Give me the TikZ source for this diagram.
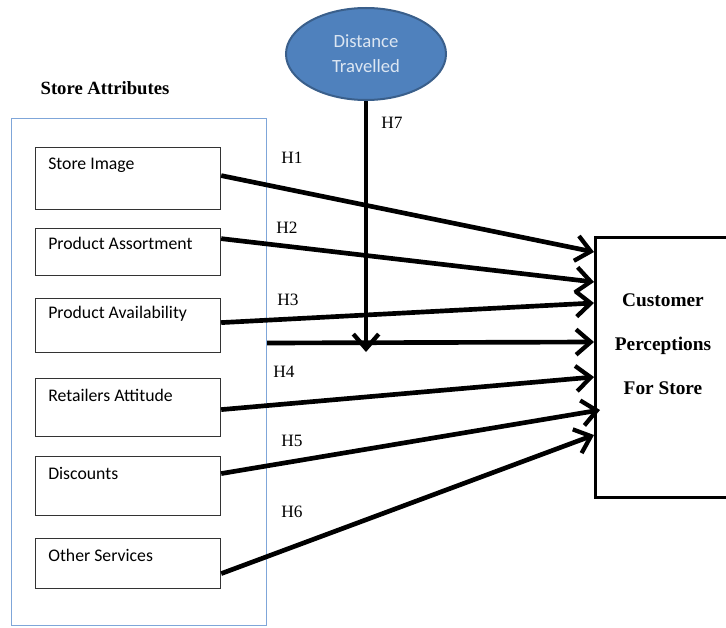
\documentclass[tikz,border=0pt]{standalone}
\usepackage{fontspec}
\setmainfont{Liberation Serif}
\newfontfamily\calibri{Carlito}
\usetikzlibrary{arrows.meta,calc,shapes.geometric}
\definecolor{distfill}{HTML}{4F81BD}
\definecolor{distline}{HTML}{3A5F8B}
\definecolor{disttext}{HTML}{DCE6F2}
\definecolor{groupline}{HTML}{7FA6D9}

\begin{document}
\begin{tikzpicture}[x=0.75pt,y=-0.75pt,
	attr/.style={draw=black!80,line width=0.9pt,minimum width=138.75pt,anchor=north west,inner sep=0pt},
	attrtext/.style={anchor=west,inner sep=0pt,font=\calibri\fontsize{13.3}{15}\selectfont},
	hyp/.style={font=\fontsize{13}{15}\selectfont},
	link/.style={line width=3.5pt,-{Straight Barb[length=11pt,width=19pt,line width=3.2pt]}}]
	\useasboundingbox (0,0) rectangle (726,628);
	\node at (105,88) (sahead) {\bfseries\fontsize{14}{16}\selectfont Store Attributes};
	\node[draw=groupline,line width=0.8pt,anchor=north west,minimum width=191.25pt,minimum height=380.25pt] at (11,118) (sa) {};
	\node[attr,minimum height=46.5pt] at (35,147) (si) {};
	\node[attrtext] at (48,165) (sit) {Store Image};
	\node[attr,minimum height=35.25pt] at (35,228) (pas) {};
	\node[attrtext] at (48,243) (past) {Product Assortment};
	\node[attr,minimum height=40.5pt] at (35,298) (pav) {};
	\node[attrtext] at (48,314) (pavt) {Product Availability};
	\node[attr,minimum height=43.5pt] at (35,378) (ra) {};
	\node[attrtext] at (48,395) (rat) {Retailers Attitude};
	\node[attr,minimum height=44.25pt] at (35,456) (di) {};
	\node[attrtext] at (48,473) (dit) {Discounts};
	\node[attr,minimum height=37.5pt] at (35,538) (os) {};
	\node[attrtext] at (48,555) (ost) {Other Services};
	\node[ellipse,draw=distline,fill=distfill,line width=1.5pt,minimum width=120pt,minimum height=69pt,
		align=center,text=disttext,font=\calibri\fontsize{14}{18.75}\selectfont] at (366,54) (dt) {Distance\\Travelled};
	\node[draw,line width=2.25pt,anchor=north west,minimum width=100.5pt,minimum height=195pt] at (594,236) (cp) {};
	\node[align=center,font=\bfseries\fontsize{14.5}{33}\selectfont] at (663,344) (cpt) {Customer\\Perceptions\\For Store};
	\coordinate (e1) at ($(cp.north west)+(0,16)$);
	\coordinate (e2) at ($(cp.north west)+(0,46)$);
	\coordinate (e3) at ($(cp.north west)+(0,67)$);
	\coordinate (e4) at ($(cp.north west)+(0,106)$);
	\coordinate (e5) at ($(cp.north west)+(0,141)$);
	\coordinate (e6) at ($(cp.north west)+(6,174)$);
	\coordinate (e7) at ($(cp.north west)+(0,199)$);
	\coordinate (tip) at (366,352);
	\coordinate (h4) at (0,343);
	\draw[link] ([yshift=2.25pt]si.east) -- (e1);
	\draw[link] ([yshift=10.1pt]pas.east) -- (e2);
	\draw[link] ([yshift=2.25pt]pav.east) -- (e3);
	\draw[link] (sa.east |- h4) -- (e4);
	\draw[link] ([yshift=-1.5pt]ra.east) -- (e5);
	\draw[link] ([yshift=9.4pt]di.east) -- (e6);
	\draw[link] ([yshift=-7.5pt]os.east) -- (e7);
	\draw[link] (dt.south) -- (tip);
	\node[hyp] at (292,158) (h1) {H1};
	\node[hyp] at (287,228) (h2) {H2};
	\node[hyp] at (288,300) (h3) {H3};
	\node[hyp] at (284,372) (h4l) {H4};
	\node[hyp] at (292,441) (h5) {H5};
	\node[hyp] at (292,512) (h6) {H6};
	\node[hyp] at (392,123) (h7) {H7};
\end{tikzpicture}
\end{document}
